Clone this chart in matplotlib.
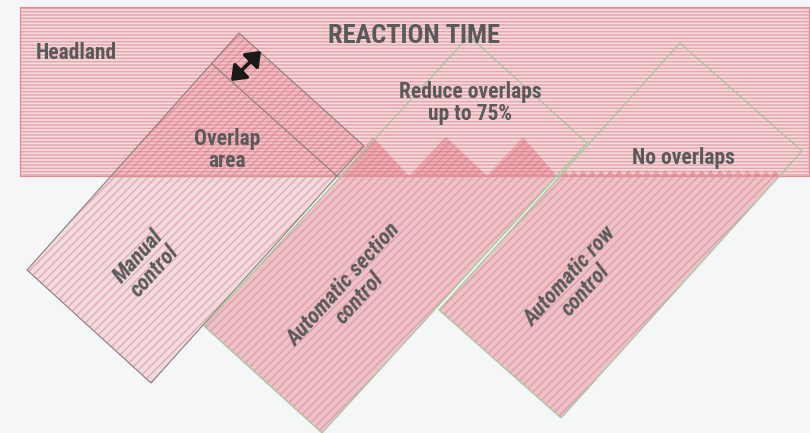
import matplotlib
matplotlib.use("Agg")
import matplotlib.pyplot as plt
from matplotlib.patches import Polygon, Rectangle
from matplotlib import font_manager

# geometry, in pixels (y grows downwards)
headland_box = [19.5, 7, 809, 176]          # left, top, right, bottom
manual_corners = [(239, 33), (364, 146), (151, 383), (27, 270)]      # top, right, bottom, left
manual_reaction_line = [(212, 64), (337, 176)]
section_corners = [(469, 36), (587, 143), (322, 433), (204, 326)]
row_corners = [(680, 43), (802, 151), (561, 418), (439, 310)]
section_teeth = [(373, 137), (409, 176), (446, 137), (487, 176), (523, 137)]
row_teeth_count = 24
row_teeth_height = 6
arrow_ends = [(231, 81), (261, 51)]

title = "REACTION TIME"
flat_labels = ["Headland", "Overlap\narea", "Reduce overlaps\nup to 75%", "No overlaps"]
flat_label_pos = [(36, 53), (227, 150), (470, 103), (683, 158)]
flat_label_ha = ["left", "center", "center", "center"]
strip_labels = ["Manual\ncontrol", "Automatic section\ncontrol", "Automatic row\ncontrol"]
strip_label_pos = [(147, 264), (352, 291), (578, 283)]
strip_angle = 48

# pick a narrow bold face if there is one
names = {f.name for f in font_manager.fontManager.ttflist}
font = "DejaVu Sans"
for fam in ["Liberation Sans Narrow", "Roboto Condensed", "Open Sans Condensed", "Arial Narrow"]:
    if fam in names:
        font = fam
        break
plt.rcParams["font.family"] = [font, "DejaVu Sans"]
plt.rcParams["hatch.linewidth"] = 1.1

bg = "#f4f6f8"
txt = "#5a5a5a"


def cross(p, q, y0):
    # point on segment p-q where y == y0
    t = (y0 - p[1]) / (q[1] - p[1])
    return (p[0] + t * (q[0] - p[0]), y0)


def field_part(corners, y0):
    # part of a strip below the headland line
    top, right, bottom, left = corners
    return [cross(left, top, y0), left, bottom, cross(bottom, right, y0)]


fig = plt.figure(figsize=(8.1, 4.33), dpi=100)
fig.patch.set_facecolor(bg)
ax = fig.add_axes([0, 0, 1, 1])
ax.set_xlim(0, 810)
ax.set_ylim(433, 0)
ax.axis("off")

x0, y0, x1, y1 = headland_box

# headland
ax.add_patch(Rectangle((x0, y0), x1 - x0, y1 - y0, facecolor="#f5dcdf",
                       edgecolor="#e7a5ac", hatch="-----", lw=0, zorder=1))

# manual control strip
ax.add_patch(Polygon(manual_corners, closed=True, facecolor=(0.88, 0.41, 0.46, 0.19),
                     edgecolor=(0.85, 0.45, 0.52, 0.45), hatch="////", lw=0, zorder=2))

# automatic section control: clipped at headland, with big teeth
sec = field_part(section_corners, y1)
sec_poly = sec + section_teeth[::-1]
ax.add_patch(Polygon(sec_poly, closed=True, facecolor=(0.88, 0.41, 0.46, 0.37),
                     edgecolor=(0.85, 0.45, 0.52, 0.45), hatch="////", lw=0, zorder=2))

# automatic row control: clipped at headland, with tiny teeth
row = field_part(row_corners, y1)
xa, xb = row[0][0], row[-1][0]
w = (xb - xa) / row_teeth_count
teeth = []
for i in range(row_teeth_count):
    teeth.append((xa + (i + 0.5) * w, y1 - row_teeth_height))
    teeth.append((xa + (i + 1) * w, y1))
row_poly = [row[0]] + row[1:-1] + [row[-1]] + teeth[::-1][1:]
ax.add_patch(Polygon(row_poly, closed=True, facecolor=(0.88, 0.41, 0.46, 0.37),
                     edgecolor=(0.85, 0.45, 0.52, 0.45), hatch="////", lw=0, zorder=2))

# outlines
ax.add_patch(Rectangle((x0, y0), x1 - x0, y1 - y0, fill=False, edgecolor="#e28c94", lw=0.9, zorder=3))
ax.add_patch(Polygon(manual_corners, closed=True, fill=False, edgecolor="#8c7c7f", lw=0.8, zorder=4))
ax.plot(*zip(*manual_reaction_line), color="#8c7c7f", lw=0.8, zorder=4)
for c in (section_corners, row_corners):
    ax.add_patch(Polygon(c, closed=True, fill=False, edgecolor="#a6c79b", lw=0.9, zorder=4))

# reaction time arrow
ax.annotate("", xy=arrow_ends[1], xytext=arrow_ends[0],
            arrowprops=dict(arrowstyle="<|-|>,head_length=0.45,head_width=0.35",
                            color="#1a1a1a", lw=2.6,
                            mutation_scale=18, shrinkA=0, shrinkB=0), zorder=6)

# text
ax.text(414, 36, title, fontsize=19, fontweight="bold", color=txt,
        ha="center", va="center", zorder=7)
for s, (x, y), ha in zip(flat_labels, flat_label_pos, flat_label_ha):
    ax.text(x, y, s, fontsize=15.5, fontweight="bold", color=txt, ha=ha, va="center",
            multialignment="center", linespacing=0.95, zorder=7)
for s, (x, y) in zip(strip_labels, strip_label_pos):
    ax.text(x, y, s, fontsize=16, fontweight="bold", style="italic", color=txt,
            ha="center", va="center", multialignment="center", linespacing=0.95,
            rotation=strip_angle, rotation_mode="anchor", zorder=7)

fig.savefig("out.png", dpi=100, facecolor=bg)
